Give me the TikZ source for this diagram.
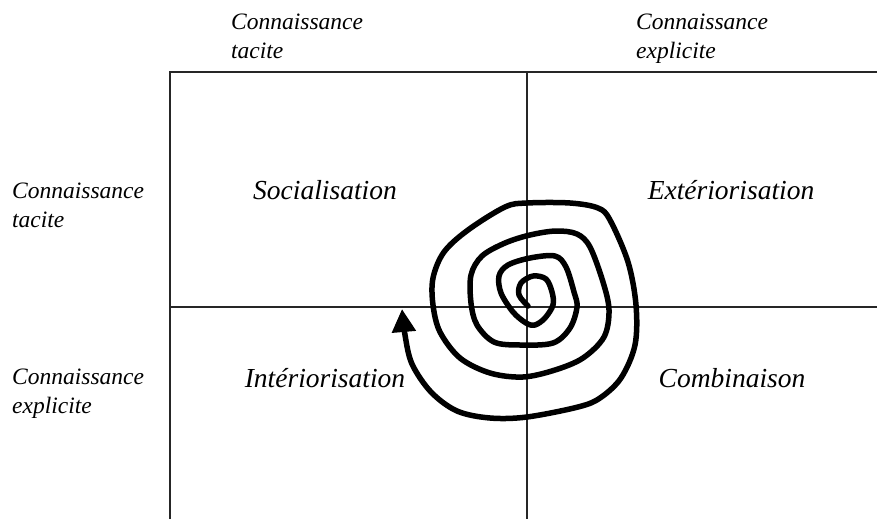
\documentclass[tikz,border=0pt]{standalone}
\usepackage{fontspec}
\setmainfont{Liberation Serif}
\usetikzlibrary{arrows.meta}
\tikzset{
  gridline/.style={line width=1.3pt, black!85},
  spiral/.style={line width=5.5pt, line cap=round, line join=round, -{Triangle[width=23pt,length=23pt]}},
  cornerlbl/.style={anchor=base west, inner sep=0pt, font=\fontsize{23.5}{28}\selectfont\itshape},
  quadlbl/.style={anchor=base, inner sep=0pt, font=\fontsize{27.5}{32}\selectfont\itshape}
}
\begin{document}
\begin{tikzpicture}[x=1pt,y=-1pt]
\useasboundingbox (0,0) rectangle (877,519);
% frame lines
\coordinate (tl) at (170,72);
\coordinate (tr) at (877,72);
\coordinate (bl) at (170,519);
\coordinate (tm) at (527,72);
\coordinate (bm) at (527,519);
\coordinate (ml) at (170,307);
\coordinate (mr) at (877,307);
\draw[gridline] (bl) -- (tl) -- (tr);
\draw[gridline] (tm) -- (bm);
\draw[gridline] (ml) -- (mr);
% corner labels
\node[cornerlbl] (ct1) at (231,30) {Connaissance};
\node[cornerlbl] (ct2) at (231,59) {tacite};
\node[cornerlbl] (ce1) at (636,30) {Connaissance};
\node[cornerlbl] (ce2) at (636,59) {explicite};
\node[cornerlbl] (lt1) at (12,198) {Connaissance};
\node[cornerlbl] (lt2) at (12,227) {tacite};
\node[cornerlbl] (le1) at (12,384) {Connaissance};
\node[cornerlbl] (le2) at (12,413) {explicite};
% quadrant labels
\node[quadlbl] (soc) at (325,199) {Socialisation};
\node[quadlbl] (ext) at (731,199) {Extériorisation};
\node[quadlbl] (int) at (325,387) {Intériorisation};
\node[quadlbl] (comb) at (732,387) {Combinaison};
% spiral
\draw[spiral] plot[smooth, tension=0.55] coordinates {
(528,306) (519,295) (521,283) (533,276) (546,279) (552,292) (553,305)
(545,318) (535,325) (526,323) (513,312) (501,293) (499,276) (508,265)
(530,258) (555,256) (566,267) (574,292) (577,307) (570,328) (553,343)
(520,345) (494,342) (477,325) (471,303) (471,275) (482,256) (505,243)
(530,235) (556,231) (577,234) (590,247) (603,282) (609,310) (604,337)
(583,358) (555,370) (523,377) (490,373) (460,358) (440,332) (433,305)
(433,278) (444,252) (468,230) (505,207) (527,203) (570,203) (598,208)
(610,220) (628,262) (636,305) (635,345) (621,378) (600,398) (578,407)
(527,417) (490,418) (457,411) (431,392) (412,364) (405,335) (402,309)
};
\end{tikzpicture}
\end{document}
